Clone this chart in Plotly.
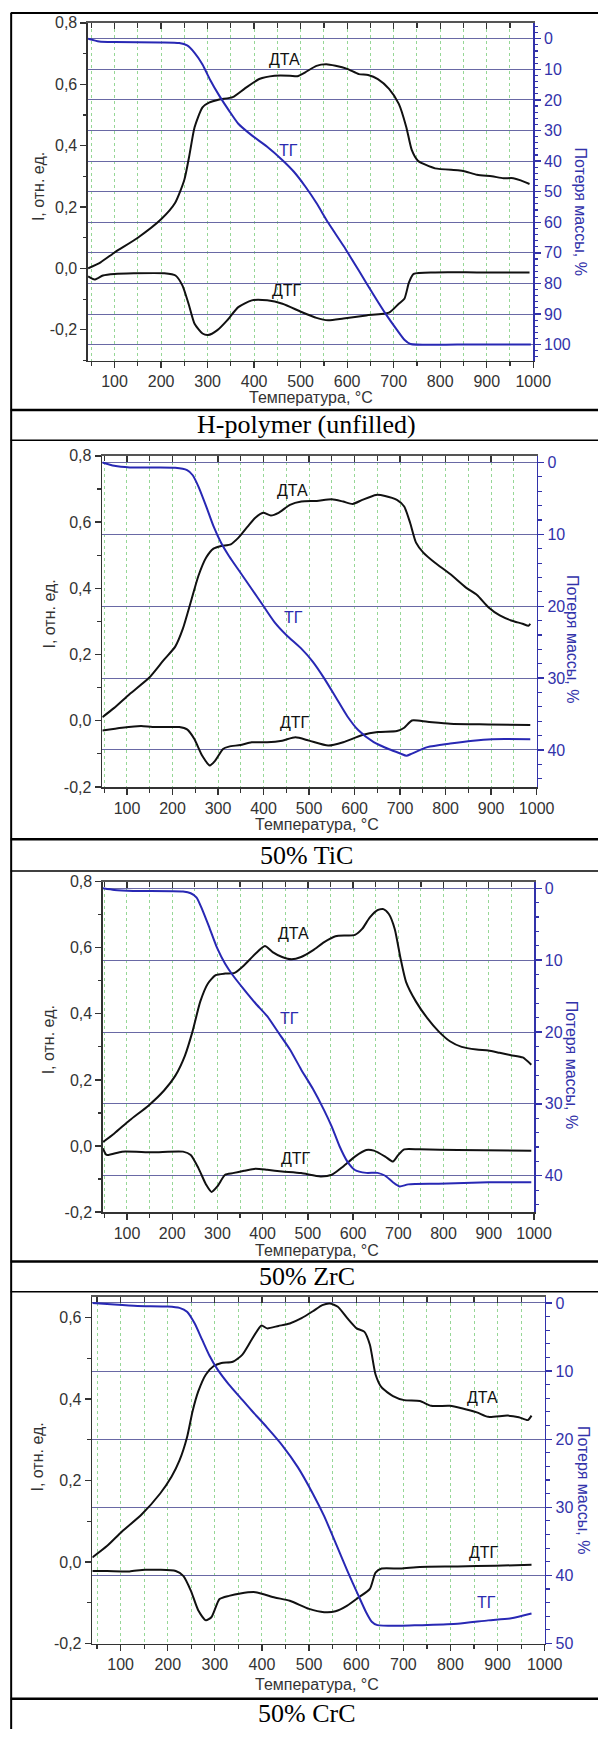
import plotly.graph_objects as go

W, H = 616, 1738

# ---------------- data ----------------
temp_ticks = [100, 200, 300, 400, 500, 600, 700, 800, 900, 1000]
temp_tick_text = ["100", "200", "300", "400", "500", "600", "700", "800", "900", "1000"]

captions = ["H-polymer (unfilled)", "50% TiC", "50% ZrC", "50% CrC"]
label_dta, label_tg, label_dtg = "ДТА", "ТГ", "ДТГ"
x_title = "Температура, °C"
y_left_title = "I, отн. ед."
y_right_title = "Потеря массы, %"

left_ticks_a = [-0.2, 0.0, 0.2, 0.4, 0.6, 0.8]
left_text_a = ["-0,2", "0,0", "0,2", "0,4", "0,6", "0,8"]
left_ticks_b = [-0.2, 0.0, 0.2, 0.4, 0.6]
left_text_b = ["-0,2", "0,0", "0,2", "0,4", "0,6"]

right_ticks_1 = [0, 10, 20, 30, 40, 50, 60, 70, 80, 90, 100]
right_ticks_23 = [0, 10, 20, 30, 40]
right_ticks_4 = [0, 10, 20, 30, 40, 50]

# Panel 1: H-polymer (unfilled)
p1_dta_t = [43, 70, 100, 150, 200, 230, 250, 261, 272, 289, 303, 325, 354, 379, 411, 444, 477, 493, 510, 534,
            555, 575, 600, 625, 645, 666, 690, 711, 727, 739, 752, 789, 838, 854, 879, 911, 936, 957, 973, 992]
p1_dta = [0.0, 0.02, 0.052, 0.10, 0.16, 0.213, 0.289, 0.37, 0.46, 0.525, 0.54, 0.55, 0.558, 0.585, 0.617, 0.628,
          0.628, 0.626, 0.639, 0.66, 0.665, 0.66, 0.65, 0.633, 0.63, 0.617, 0.585, 0.536, 0.461, 0.385, 0.351,
          0.326, 0.32, 0.316, 0.305, 0.30, 0.294, 0.294, 0.287, 0.275]
p1_dtg_t = [43, 57, 75, 100, 141, 207, 231, 246, 260, 272, 289, 301, 321, 342, 366, 395, 428, 461, 502, 534,
            559, 592, 641, 690, 711, 723, 733, 743, 789, 879, 992]
p1_dtg = [-0.026, -0.036, -0.023, -0.018, -0.016, -0.016, -0.023, -0.056, -0.12, -0.18, -0.212, -0.217, -0.201,
          -0.169, -0.126, -0.104, -0.104, -0.115, -0.142, -0.161, -0.169, -0.163, -0.153, -0.144, -0.115, -0.099,
          -0.045, -0.018, -0.013, -0.013, -0.013]
p1_tg_t = [43, 67, 100, 198, 239, 256, 272, 289, 305, 325, 346, 366, 395, 428, 461, 485, 510, 534, 559, 592,
           625, 657, 682, 707, 723, 736, 838, 995]
p1_tg = [0, 0.9, 1.1, 1.2, 1.4, 2.2, 4.6, 8.4, 13.3, 18.6, 23.5, 27.8, 31.6, 35.3, 39.7, 43.4, 48.3, 53.7, 60.1,
         67.7, 75.8, 83.8, 89.8, 95.2, 98.4, 99.8, 100, 100]

# Panel 2: 50% TiC
p2_dta_t = [46, 72, 106, 148, 181, 206, 223, 240, 257, 274, 290, 307, 328, 345, 366, 382, 399, 416, 433, 458,
            483, 517, 550, 575, 596, 617, 647, 667, 693, 709, 722, 735, 751, 776, 810, 844, 869, 894, 919, 944,
            969, 982, 986]
p2_dta = [0.011, 0.039, 0.081, 0.129, 0.184, 0.224, 0.279, 0.358, 0.438, 0.493, 0.52, 0.528, 0.533, 0.553, 0.588,
          0.613, 0.628, 0.62, 0.628, 0.652, 0.662, 0.664, 0.669, 0.662, 0.655, 0.667, 0.682, 0.679, 0.667, 0.647,
          0.598, 0.538, 0.508, 0.478, 0.443, 0.403, 0.38, 0.343, 0.318, 0.303, 0.293, 0.287, 0.293]
p2_dtg_t = [46, 89, 131, 156, 215, 232, 248, 265, 282, 294, 311, 324, 349, 374, 408, 441, 470, 500, 542, 575,
            617, 651, 693, 709, 726, 760, 810, 894, 986]
p2_dtg = [-0.029, -0.021, -0.016, -0.019, -0.019, -0.026, -0.055, -0.105, -0.135, -0.12, -0.085, -0.078, -0.073,
          -0.065, -0.065, -0.06, -0.05, -0.06, -0.075, -0.065, -0.043, -0.034, -0.031, -0.021, 0.001, -0.003,
          -0.009, -0.011, -0.013]
p2_tg_t = [46, 72, 106, 206, 232, 244, 257, 274, 290, 307, 324, 349, 374, 399, 424, 450, 483, 508, 533, 559,
           584, 609, 642, 676, 701, 714, 726, 760, 810, 860, 902, 986]
p2_tg = [0, 0.46, 0.69, 0.73, 1.06, 1.74, 3.35, 6.1, 8.86, 11.2, 13.0, 15.3, 17.6, 19.9, 22.2, 24.0, 25.9, 27.7,
         30.0, 32.7, 35.3, 37.3, 38.9, 39.9, 40.5, 40.8, 40.5, 39.6, 39.1, 38.7, 38.5, 38.5]

# Panel 3: 50% ZrC
p3_dta_t = [47, 72, 106, 148, 182, 207, 228, 245, 262, 279, 296, 317, 338, 359, 384, 405, 422, 443, 464, 485,
            511, 536, 561, 587, 604, 620, 637, 654, 667, 679, 692, 705, 717, 739, 764, 789, 814, 840, 873, 899,
            924, 949, 975, 994]
p3_dta = [0.012, 0.038, 0.078, 0.123, 0.168, 0.213, 0.273, 0.347, 0.437, 0.492, 0.517, 0.522, 0.524, 0.547, 0.582,
          0.605, 0.587, 0.572, 0.565, 0.572, 0.592, 0.617, 0.635, 0.637, 0.639, 0.657, 0.692, 0.714, 0.717, 0.702,
          0.657, 0.567, 0.497, 0.437, 0.387, 0.347, 0.317, 0.30, 0.292, 0.289, 0.282, 0.275, 0.268, 0.246]
p3_dtg_t = [47, 55, 89, 156, 224, 241, 258, 275, 287, 300, 317, 334, 359, 384, 410, 443, 485, 528, 553, 578,
            604, 629, 646, 671, 688, 700, 713, 747, 831, 994]
p3_dtg = [-0.007, -0.027, -0.017, -0.019, -0.017, -0.027, -0.067, -0.117, -0.139, -0.122, -0.087, -0.082, -0.075,
          -0.069, -0.072, -0.077, -0.082, -0.092, -0.087, -0.062, -0.032, -0.012, -0.014, -0.032, -0.047, -0.027,
          -0.01, -0.01, -0.012, -0.014]
p3_tg_t = [47, 72, 114, 224, 241, 254, 266, 283, 300, 317, 334, 359, 384, 410, 435, 460, 485, 511, 536, 553,
           570, 587, 604, 629, 654, 671, 688, 703, 722, 789, 899, 994]
p3_tg = [0, 0.23, 0.37, 0.46, 0.69, 1.29, 2.9, 5.6, 8.4, 10.5, 12.1, 14.1, 16.0, 17.8, 20.1, 22.4, 25.2, 27.9,
         30.9, 33.2, 35.9, 38.0, 39.2, 39.6, 39.6, 40.0, 40.9, 41.5, 41.2, 41.1, 40.9, 40.9]

# Panel 4: 50% CrC
p4_dta_t = [40, 71, 103, 144, 184, 208, 225, 241, 253, 265, 281, 297, 314, 338, 358, 378, 399, 411, 435, 459,
            484, 508, 528, 544, 561, 581, 601, 617, 629, 641, 654, 678, 702, 735, 759, 799, 824, 856, 880, 921,
            945, 964, 972]
p4_dta = [0.011, 0.039, 0.075, 0.116, 0.168, 0.209, 0.249, 0.306, 0.371, 0.419, 0.46, 0.48, 0.488, 0.491, 0.508,
          0.545, 0.58, 0.573, 0.579, 0.585, 0.598, 0.615, 0.63, 0.634, 0.626, 0.598, 0.573, 0.565, 0.533, 0.46,
          0.428, 0.407, 0.397, 0.395, 0.383, 0.383, 0.377, 0.367, 0.356, 0.359, 0.355, 0.348, 0.359]
p4_dtg_t = [40, 71, 119, 152, 217, 233, 249, 265, 281, 293, 310, 330, 354, 386, 427, 459, 500, 532, 556, 581,
            605, 629, 641, 654, 694, 735, 815, 896, 972]
p4_dtg = [-0.022, -0.022, -0.023, -0.019, -0.022, -0.034, -0.07, -0.119, -0.143, -0.135, -0.091, -0.083, -0.077,
          -0.074, -0.087, -0.095, -0.115, -0.123, -0.121, -0.107, -0.087, -0.066, -0.026, -0.016, -0.016, -0.012,
          -0.011, -0.009, -0.007]
p4_tg_t = [40, 87, 136, 200, 225, 241, 257, 273, 289, 306, 330, 354, 378, 411, 443, 476, 508, 532, 556, 581,
           605, 621, 633, 645, 694, 735, 815, 880, 929, 972]
p4_tg = [0, 0.24, 0.44, 0.53, 0.73, 1.3, 3.0, 5.4, 7.8, 9.8, 12.0, 13.9, 15.8, 18.3, 20.9, 24.1, 28.0, 31.3,
         35.2, 39.3, 43.0, 45.4, 46.8, 47.3, 47.4, 47.3, 47.1, 46.6, 46.3, 45.6]

# ---------------- layout geometry (pixels) ----------------
panels = [
    dict(L=90.7, R=549.3, T=15, B=356, xr=[43, 1000], yl=[-0.3, 0.8], yr=[105.2, -5.2],
         lt=left_ticks_a, ltx=left_text_a, rt=right_ticks_1,
         dta=(p1_dta_t, p1_dta), dtg=(p1_dtg_t, p1_dtg), tg=(p1_tg_t, p1_tg),
         lab=[(465, 0.68, label_dta, "#111"), (473, 0.385, label_tg, "#2b2bb0"), (470, -0.073, label_dtg, "#111")],
         xt=(320, 393), ylt=(39, 180), yrt=(597, 205), cap=421),
    dict(L=105.3, R=552.8, T=452.3, B=786.7, xr=[45.6, 1000], yl=[-0.2, 0.8], yr=[45.15, -0.92],
         lt=left_ticks_a, ltx=left_text_a, rt=right_ticks_23,
         dta=(p2_dta_t, p2_dta), dtg=(p2_dtg_t, p2_dtg), tg=(p2_tg_t, p2_tg),
         lab=[(464, 0.695, label_dta, "#111"), (466, 0.313, label_tg, "#2b2bb0"), (470, -0.006, label_dtg, "#111")],
         xt=(327, 825), ylt=(50, 612), yrt=(589, 637), cap=856),
    dict(L=106.1, R=550.1, T=882.3, B=1216, xr=[47, 1000], yl=[-0.2, 0.8], yr=[45.06, -0.92],
         lt=left_ticks_a, ltx=left_text_a, rt=right_ticks_23,
         dta=(p3_dta_t, p3_dta), dtg=(p3_dtg_t, p3_dtg), tg=(p3_tg_t, p3_tg),
         lab=[(469, 0.642, label_dta, "#111"), (460, 0.385, label_tg, "#2b2bb0"), (473, -0.037, label_dtg, "#111")],
         xt=(327, 1255), ylt=(50, 1042), yrt=(589, 1067), cap=1281),
    dict(L=95.1, R=561.1, T=1301.7, B=1651.7, xr=[40, 1000], yl=[-0.2, 0.65], yr=[50, -0.87],
         lt=left_ticks_b, ltx=left_text_b, rt=right_ticks_4,
         dta=(p4_dta_t, p4_dta), dtg=(p4_dtg_t, p4_dtg), tg=(p4_tg_t, p4_tg),
         lab=[(868, 0.403, label_dta, "#111"), (876, -0.099, label_tg, "#2b2bb0"), (872, 0.023, label_dtg, "#111")],
         xt=(327, 1693), ylt=(39, 1463), yrt=(601, 1497), cap=1722),
]

BLUE = "rgb(40,40,180)"
BLUE_AX = "rgb(50,50,170)"
GRID_H = "rgb(105,105,165)"
GRID_V = "rgb(150,215,150)"
DARK = "#333333"
SANS = "Liberation Sans, Arial, sans-serif"
SERIF = "Liberation Serif, Times New Roman, serif"


def px_x(x):
    return x / W


def px_y(y):
    return 1 - y / H


fig = go.Figure()
layout = dict(width=W, height=H, autosize=False, margin=dict(l=0, r=0, t=0, b=0, pad=0),
              paper_bgcolor="white", plot_bgcolor="white", showlegend=False, hovermode=False)
annotations = []
shapes = []


def ann(**kw):
    base = dict(showarrow=False, xanchor="center", yanchor="middle")
    base.update(kw)
    annotations.append(base)


for i, p in enumerate(panels, start=1):
    xa = "x" if i == 1 else f"x{i}"
    ya_l = "y" if i == 1 else f"y{2 * i - 1}"
    ya_r = f"y{2 * i}"
    xt_name = f"x{4 + i}"
    xdom = [px_x(p["L"]), px_x(p["R"])]
    ydom = [px_y(p["B"]), px_y(p["T"])]

    for (t, v), col, yax in [(p["dta"], "#111111", ya_l), (p["dtg"], "#111111", ya_l), (p["tg"], BLUE, ya_r)]:
        fig.add_trace(go.Scatter(x=t, y=v, mode="lines", xaxis=xa, yaxis=yax,
                                 line=dict(color=col, width=2, shape="spline", smoothing=0.6),
                                 hoverinfo="skip"))
    # placeholder trace for top mirrored axis
    fig.add_trace(go.Scatter(x=[], y=[], xaxis=xt_name, yaxis=ya_l, hoverinfo="skip"))

    xkey = "xaxis" if i == 1 else f"xaxis{i}"
    ylkey = "yaxis" if i == 1 else f"yaxis{2 * i - 1}"
    yrkey = f"yaxis{2 * i}"
    xtkey = f"xaxis{4 + i}"

    layout[xkey] = dict(domain=xdom, anchor=ya_l, range=p["xr"], tickmode="array",
                        tickvals=temp_ticks, ticktext=temp_tick_text,
                        ticks="outside", ticklen=6, tickwidth=1.3, tickcolor=DARK,
                        showline=True, linecolor=DARK, linewidth=1.6, zeroline=False,
                        showgrid=True, gridcolor=GRID_V, gridwidth=1, griddash="3px,3px",
                        minor=dict(tickmode="linear", tick0=0, dtick=50, ticks="outside", ticklen=4,
                                   tickwidth=1.2, tickcolor=DARK, showgrid=True, gridcolor=GRID_V,
                                   gridwidth=1, griddash="3px,3px"),
                        tickfont=dict(family=SANS, size=16, color=DARK))
    layout[xtkey] = dict(overlaying=xa, side="top", anchor=ya_l, range=p["xr"], tickmode="array",
                         tickvals=temp_ticks, showticklabels=False, ticks="inside", ticklen=6, tickwidth=1.3,
                         tickcolor=DARK, showline=True, linecolor="#555555", linewidth=1.6,
                         showgrid=False, zeroline=False,
                         minor=dict(tickmode="linear", tick0=0, dtick=50, ticks="inside", ticklen=5,
                                    tickwidth=1.2, tickcolor=DARK, showgrid=False))
    layout[ylkey] = dict(domain=ydom, anchor=xa, range=p["yl"], tickmode="array",
                         tickvals=p["lt"], ticktext=p["ltx"], ticks="outside", ticklen=6, tickwidth=1.3,
                         tickcolor=DARK, showline=True, linecolor=DARK, linewidth=1.6,
                         showgrid=False, zeroline=False,
                         minor=dict(tickmode="linear", tick0=0, dtick=0.1, ticks="outside", ticklen=3.5,
                                    tickwidth=1.2, tickcolor=DARK, showgrid=False),
                         tickfont=dict(family=SANS, size=16, color=DARK))
    layout[yrkey] = dict(overlaying=ya_l, side="right", anchor=xa, range=p["yr"], tickmode="array",
                         tickvals=p["rt"], ticktext=[str(v) for v in p["rt"]],
                         ticks="outside", ticklen=6, tickwidth=1.3, tickcolor=BLUE_AX,
                         showline=True, linecolor=BLUE_AX, linewidth=1.6, zeroline=False,
                         showgrid=True, gridcolor=GRID_H, gridwidth=1,
                         minor=dict(tickmode="linear", tick0=0, dtick=2, ticks="outside", ticklen=3.5,
                                    tickwidth=1.1, tickcolor=BLUE_AX, showgrid=False),
                         tickfont=dict(family=SANS, size=16, color=BLUE_AX))

    # curve labels
    for (lx, ly, txt, col) in p["lab"]:
        ann(x=lx, y=ly, xref=xa, yref=ya_l, text=txt, font=dict(family=SANS, size=16, color=col))
    # axis titles
    ann(x=px_x(p["xt"][0]), y=px_y(p["xt"][1]), xref="paper", yref="paper",
        text=x_title, font=dict(family=SANS, size=16, color=DARK))
    ann(x=px_x(p["ylt"][0]), y=px_y(p["ylt"][1]), xref="paper", yref="paper",
        text=y_left_title, textangle=-90, font=dict(family=SANS, size=16, color=DARK))
    ann(x=px_x(p["yrt"][0]), y=px_y(p["yrt"][1]), xref="paper", yref="paper",
        text=y_right_title, textangle=90, font=dict(family=SANS, size=16, color=BLUE_AX))
    # caption
    ann(x=px_x(316), y=px_y(p["cap"]), xref="paper", yref="paper",
        text=captions[i - 1], font=dict(family=SERIF, size=26, color="black"))

# table borders
for yy, lw in [(5, 2), (406, 2.5), (436.5, 1.5), (839.5, 2.5), (871.5, 1.5), (1266, 2.5), (1296.5, 1.5),
               (1707.5, 2.5)]:
    shapes.append(dict(type="line", xref="paper", yref="paper", x0=px_x(11), x1=1, y0=px_y(yy), y1=px_y(yy),
                       line=dict(color="black", width=lw)))
shapes.append(dict(type="line", xref="paper", yref="paper", x0=px_x(11.5), x1=px_x(11.5), y0=px_y(5), y1=0,
                   line=dict(color="black", width=2)))

layout["annotations"] = annotations
layout["shapes"] = shapes
fig.update_layout(**layout)
fig.write_html("out.html", config={"displayModeBar": False, "staticPlot": True},
               post_script="document.body.style.margin='0';document.body.style.overflow='hidden';")
